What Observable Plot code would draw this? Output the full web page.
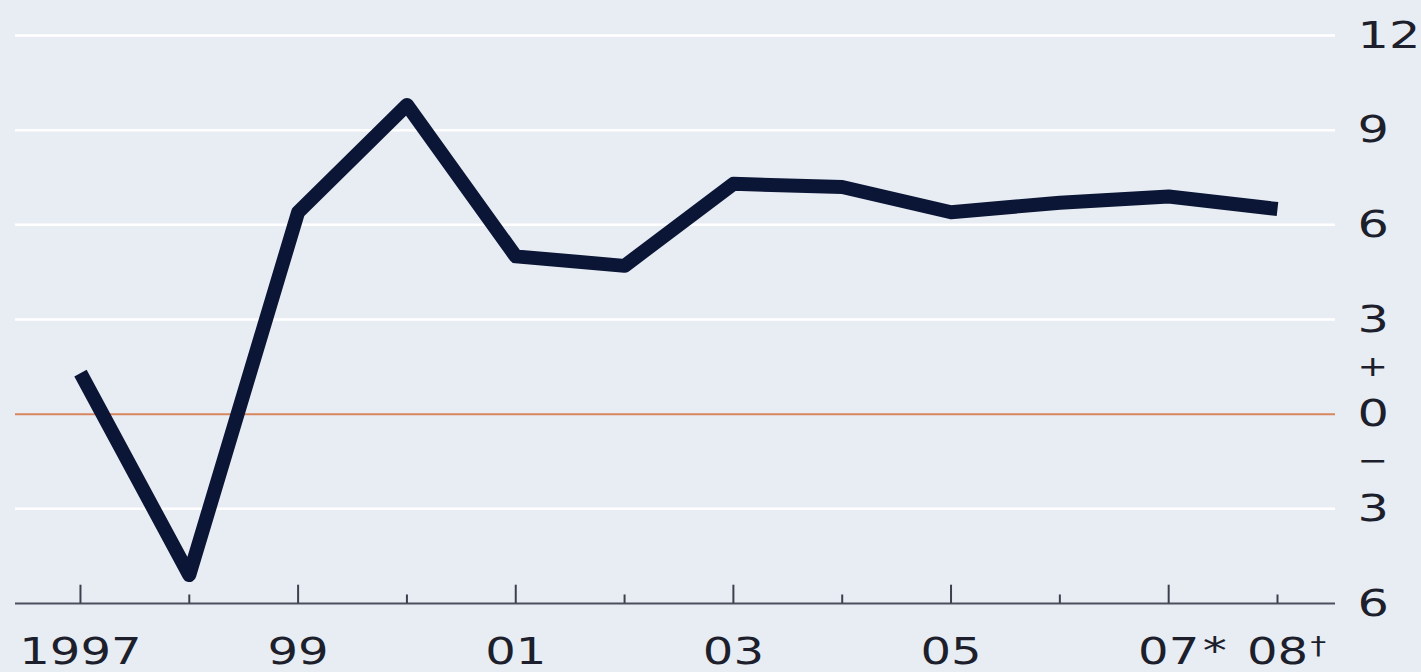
<!DOCTYPE html>
<html>
<head>
<meta charset="utf-8">
<script src="https://cdn.jsdelivr.net/npm/d3@7"></script>
<script src="https://cdn.jsdelivr.net/npm/@observablehq/plot@0.6"></script>
<style>
  html, body { margin: 0; padding: 0; background: #e8edf3; }
  #chart svg { display: block; }
</style>
</head>
<body>
<div id="chart"></div>
<script>
// ---- data ----
const years = [1997, 1998, 1999, 2000, 2001, 2002, 2003, 2004, 2005, 2006, 2007, 2008];
const growth = [1.3, -5.1, 6.4, 9.8, 5.0, 4.7, 7.3, 7.2, 6.4, 6.7, 6.9, 6.5];

const gridValues = [12, 9, 6, 3, -3];
const yTickValues = [12, 9, 6, 3, 0, -3, -6];
const yTickLabels = ["12", "9", "6", "3", "0", "3", "6"];
const signValues = [1.5, -1.5];
const signLabels = ["+", "\u2212"];

const majorTickYears = [1997, 1999, 2001, 2003, 2005, 2007];
const minorTickYears = [1998, 2000, 2002, 2004, 2006, 2008];
const xLabelYears = [1997, 1999, 2001, 2003, 2005, 2007, 2008];
const xLabels = ["1997", "99", "01", "03", "05", "07", "08"];
const noteYears = [2007, 2008];
const notes = ["*", "\u2020"];

// ---- style ----
const font = "DejaVu Sans";
const ink = "#1d1f2c";
const yBase = -6;
const majorTickLen = 0.58; // in percentage points
const minorTickLen = 0.27;

const chart = Plot.plot({
  width: 1421,
  height: 672,
  marginLeft: 15,
  marginRight: 86,
  marginTop: 35,
  marginBottom: 69,
  style: { background: "#e8edf3", fontFamily: font, color: ink },
  x: { domain: [1996.403, 2008.533], axis: null },
  y: { domain: [-6, 12], axis: null },
  marks: [
    Plot.ruleY(gridValues, { y: d => d, stroke: "#ffffff", strokeWidth: 2.5 }),
    Plot.ruleY([0], { y: d => d, stroke: "#d8865f", strokeWidth: 2 }),
    Plot.ruleY([yBase], { y: d => d, stroke: "#4a4f5c", strokeWidth: 2 }),
    Plot.ruleX(majorTickYears, { x: d => d, y1: () => yBase, y2: () => yBase + majorTickLen, stroke: "#3c404c", strokeWidth: 2 }),
    Plot.ruleX(minorTickYears, { x: d => d, y1: () => yBase, y2: () => yBase + minorTickLen, stroke: "#3c404c", strokeWidth: 2 }),
    Plot.line(years, {
      x: d => d,
      y: (d, i) => growth[i],
      stroke: "#0b1636",
      strokeWidth: 14,
      strokeLinecap: "butt",
      strokeLinejoin: "round"
    }),
    Plot.text(yTickValues, {
      y: d => d,
      text: (d, i) => yTickLabels[i],
      frameAnchor: "right",
      textAnchor: "start",
      lineAnchor: "middle",
      dx: 22,
      fontSize: 38,
      fontFamily: font,
      fill: ink
    }),
    Plot.text(signValues, {
      y: d => d,
      text: (d, i) => signLabels[i],
      frameAnchor: "right",
      textAnchor: "start",
      lineAnchor: "middle",
      dx: 22,
      fontSize: 28,
      fontFamily: font,
      fill: ink
    }),
    Plot.text(xLabelYears, {
      x: d => d,
      y: () => yBase,
      text: (d, i) => xLabels[i],
      textAnchor: "middle",
      lineAnchor: "middle",
      dy: 49,
      fontSize: 37,
      fontFamily: font,
      fill: ink
    }),
    Plot.text(notes, {
      filter: (d, i) => i === 0,
      x: (d, i) => noteYears[i],
      y: () => yBase,
      text: d => d,
      textAnchor: "start",
      lineAnchor: "middle",
      dx: 34,
      dy: 49,
      fontSize: 37,
      fontFamily: font,
      fill: ink
    }),
    Plot.text(notes, {
      filter: (d, i) => i === 1,
      x: (d, i) => noteYears[i],
      y: () => yBase,
      text: d => d,
      textAnchor: "start",
      lineAnchor: "middle",
      dx: 33,
      dy: 43,
      fontSize: 24,
      fontFamily: font,
      fill: ink
    })
  ]
});

// widen the glyphs horizontally, as in the reference typeface
chart.querySelectorAll("text").forEach(t => {
  const tr = t.getAttribute("transform");
  if (tr) {
    t.setAttribute("transform", tr + " scale(1.3,1)");
  } else {
    const x = t.getAttribute("x") || 0, y = t.getAttribute("y") || 0;
    t.removeAttribute("x"); t.removeAttribute("y");
    t.setAttribute("transform", `translate(${x},${y}) scale(1.3,1)`);
  }
});

document.getElementById("chart").appendChild(chart);
</script>
</body>
</html>
